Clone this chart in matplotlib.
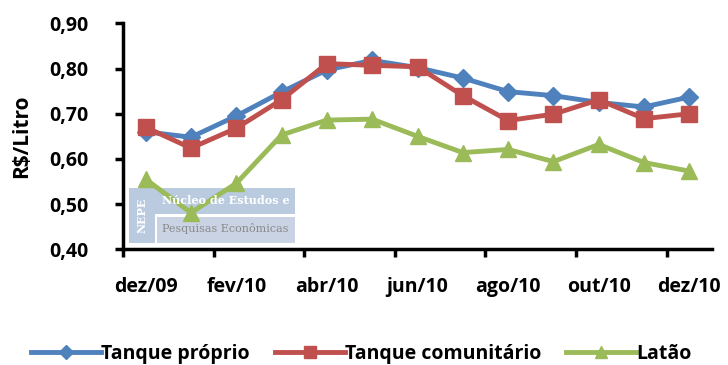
import matplotlib
matplotlib.use('Agg')
import matplotlib.pyplot as plt
from matplotlib.patches import Rectangle
from matplotlib.ticker import FuncFormatter, FixedLocator

# dados (R$/litro)
meses = ['dez/09', 'jan/10', 'fev/10', 'mar/10', 'abr/10', 'mai/10', 'jun/10',
         'jul/10', 'ago/10', 'set/10', 'out/10', 'nov/10', 'dez/10']
tanque_proprio = [0.660, 0.648, 0.695, 0.748, 0.797, 0.818, 0.802,
                  0.779, 0.749, 0.740, 0.725, 0.715, 0.737]
tanque_comunitario = [0.670, 0.624, 0.668, 0.731, 0.811, 0.807, 0.804,
                      0.740, 0.685, 0.699, 0.731, 0.689, 0.700]
latao = [0.555, 0.481, 0.546, 0.653, 0.686, 0.688, 0.650,
         0.614, 0.621, 0.594, 0.632, 0.592, 0.573]

plt.rcParams['font.family'] = ['Open Sans', 'DejaVu Sans']
plt.rcParams['font.weight'] = 'bold'

fig = plt.figure(figsize=(7.28, 3.65), dpi=100)
ax = fig.add_axes([0.169, 0.317, 0.809, 0.619])

x = list(range(len(meses)))
ax.plot(x, tanque_proprio, color='#4F81BD', lw=3.5, marker='D', ms=9,
        label='Tanque próprio', zorder=3)
ax.plot(x, tanque_comunitario, color='#C0504D', lw=3.5, marker='s', ms=12,
        label='Tanque comunitário', zorder=4)
ax.plot(x, latao, color='#9BBB59', lw=3.5, marker='^', ms=12,
        label='Latão', zorder=5)

ax.set_xlim(-0.5, len(meses) - 0.5)
ax.set_ylim(0.40, 0.90)
ax.set_yticks([0.40, 0.50, 0.60, 0.70, 0.80, 0.90])
ax.yaxis.set_major_formatter(FuncFormatter(lambda v, p: f'{v:.2f}'.replace('.', ',')))

# rótulos nos meses pares, marcas entre categorias
ax.xaxis.set_major_locator(FixedLocator([-0.5, 1.5, 3.5, 5.5, 7.5, 9.5, 11.5]))
ax.xaxis.set_major_formatter(FuncFormatter(lambda v, p: ''))
ax.set_xticks(x[::2], minor=True)
ax.set_xticklabels(meses[::2], minor=True, fontweight='bold')
ax.tick_params(axis='x', which='minor', length=0, pad=20, labelsize=14)
ax.tick_params(axis='x', which='major', length=6, width=2.5, direction='out')
ax.tick_params(axis='y', length=6, width=2.5, direction='out', labelsize=14, pad=19)
for t in ax.get_yticklabels():
    t.set_fontweight('bold')

for s in ['top', 'right']:
    ax.spines[s].set_visible(False)
for s in ['left', 'bottom']:
    ax.spines[s].set_linewidth(2.5)

ax.set_ylabel('R$/Litro', fontsize=15, fontweight='bold', labelpad=12)

# marca d'água NEPE
def fig_rect(x0, y0, x1, y1, color):
    W, H = 728, 365
    ax.add_patch(Rectangle((x0 / W, 1 - y1 / H), (x1 - x0) / W, (y1 - y0) / H,
                           transform=fig.transFigure, facecolor=color,
                           edgecolor='none', zorder=1, clip_on=False))

fig_rect(129, 188, 155, 243, '#BACBE0')
fig_rect(155, 188, 295, 214, '#BACBE0')
fig_rect(157, 217, 295, 243, '#CAD3E3')
fig.text(142 / 728, 1 - 215 / 365, 'NEPE', rotation=90, color='white',
         family='DejaVu Serif', fontsize=8, fontweight='bold',
         ha='center', va='center', zorder=1)
fig.text(162 / 728, 1 - 201 / 365, 'Núcleo de Estudos e', color='white',
         family='DejaVu Serif', fontsize=8, fontweight='bold',
         ha='left', va='center', zorder=1)
fig.text(162 / 728, 1 - 229 / 365, 'Pesquisas Econômicas', color='#8A8A8A',
         family='DejaVu Serif', fontsize=8, fontweight='normal',
         ha='left', va='center', zorder=1)

leg = fig.legend(loc='center', bbox_to_anchor=(0.496, 1 - 354 / 365), ncol=3,
                 frameon=False, prop={'size': 14, 'weight': 'bold'},
                 handlelength=3.6, columnspacing=1.3, markerscale=0.75,
                 handletextpad=0.0, borderaxespad=0)

fig.savefig('out.png', dpi=100)
